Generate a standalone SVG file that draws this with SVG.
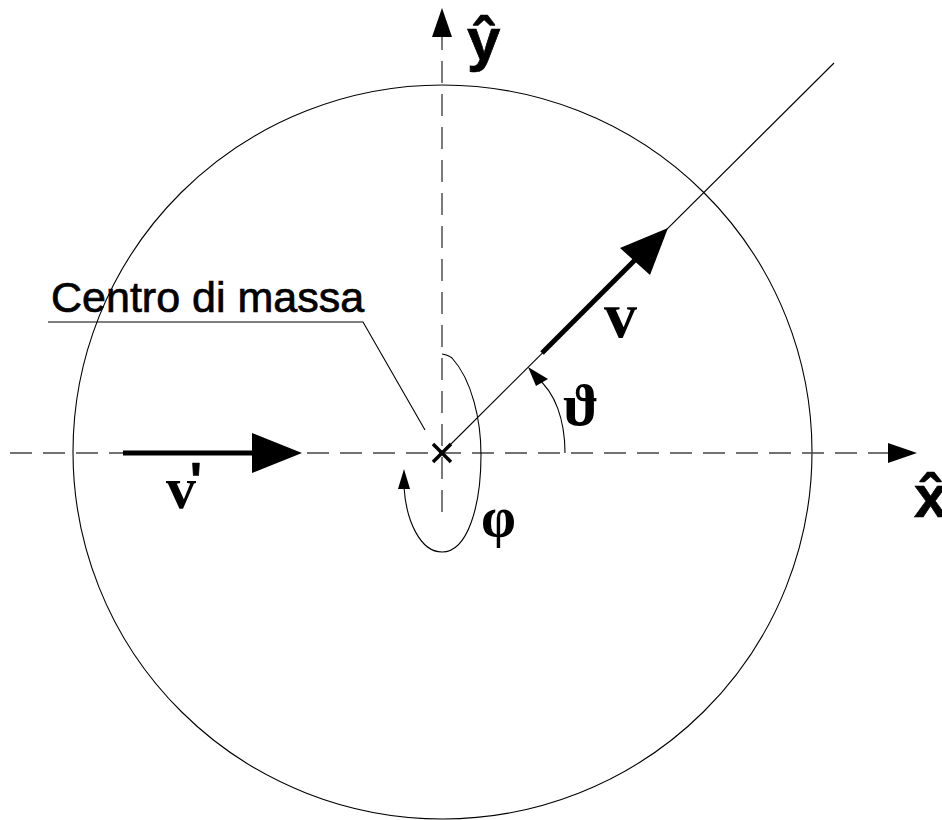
<svg xmlns="http://www.w3.org/2000/svg" width="942" height="820" viewBox="0 0 942 820">
<style>
.axis{stroke:#444;stroke-width:1.4;stroke-dasharray:22 11;fill:none}
.thin{stroke:#000;stroke-width:1.1;fill:none}
.thick{stroke:#000;stroke-width:5;fill:none}
.head{fill:#000;stroke:none}
.sans{font-family:"Liberation Sans",Arial,sans-serif;fill:#000;stroke:#000;stroke-width:0.7}
.serif{font-family:"Liberation Serif","DejaVu Serif",serif;fill:#000}
</style>
<rect width="942" height="820" fill="#fff"/>
<g id="circle">
<ellipse cx="442.5" cy="452" rx="369.5" ry="367" class="thin"/>
</g>
<g id="connectors">
<line class="axis" x1="10" y1="453" x2="889" y2="453"/>
<polygon class="head" points="917,453 888,443 888,463"/>
<line class="axis" x1="442" y1="512" x2="442" y2="37"/>
<polygon class="head" points="442,8 432,37 452,37"/>
<line class="thin" x1="442" y1="453" x2="834" y2="63"/>
<line class="thick" x1="542" y1="353" x2="640" y2="255"/>
<polygon class="head" points="668,228 620,248 650,275"/>
<line class="thick" x1="123" y1="453" x2="254" y2="453"/>
<polygon class="head" points="302,453 252,433 252,473"/>
<path class="thin" stroke-width="2.2" d="M565,453 C565,420 555,392 537,378"/>
<polygon class="head" points="528,367 548,379 536,386"/>
<path class="thin" d="M442,354 C447,355 450,356 452,358 C472,380 481,420 481,455 C481,505 468,552 442,552 C420,552 406,520 404,487"/>
<polygon class="head" points="404,469 398,489 410,489"/>
<polyline class="thin" points="48,322 363,322 425,430"/>
</g>
<g id="center">
<path d="M433,444 L451,462 M451,444 L433,462" stroke="#000" stroke-width="3.5"/>
</g>
<g id="label-centro">
<text class="sans" x="51" y="312" font-size="43">Centro di massa</text>
</g>
<g id="label-y">
<text class="sans" x="467" y="60" font-size="60" font-weight="bold" stroke-width="0">ŷ</text>
</g>
<g id="label-x">
<text class="sans" x="914" y="517" font-size="60" font-weight="bold" stroke-width="0">x̂</text>
</g>
<g id="label-v">
<text class="serif" x="604" y="337" font-size="66" font-weight="bold">v</text>
</g>
<g id="label-vprime">
<text class="serif" x="166" y="508" font-size="60" font-weight="bold">v<tspan class="sans" font-size="50" font-weight="bold" stroke-width="0" dx="-6" dy="-10">'</tspan></text>
</g>
<g id="label-theta">
<text class="serif" x="563" y="425" font-size="60" font-weight="bold">ϑ</text>
</g>
<g id="label-phi">
<text class="serif" x="481" y="536" font-size="56" font-weight="bold">φ</text>
</g>
</svg>
